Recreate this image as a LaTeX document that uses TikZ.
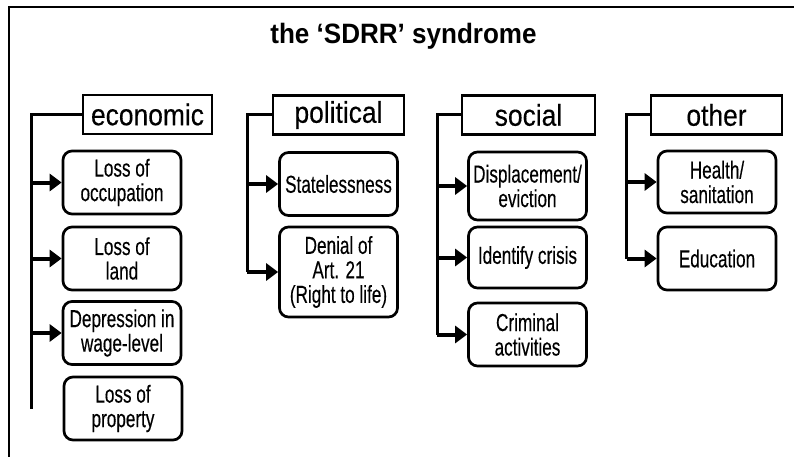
\documentclass[tikz,border=0pt]{standalone}
\usepackage{fontspec}
\setmainfont{Liberation Sans}
\newfontfamily\boxfont{Liberation Sans}[FakeStretch=0.70,FakeBold=0.3]
\newfontfamily\headfont{Liberation Sans}[FakeStretch=0.88,FakeBold=0.3]
\newfontfamily\titlefont{Liberation Sans}[FakeStretch=0.93]
\usetikzlibrary{arrows.meta}
\tikzset{
  itembox/.style={draw, line width=2.7pt, rounded corners=9pt, minimum width=118pt,
    minimum height=63pt, inner sep=0pt, align=center,
    font=\boxfont\fontsize{24.5}{24.5}\selectfont},
  headbox/.style={draw, line width=2.6pt, minimum width=129pt, minimum height=39pt,
    inner sep=0pt, font=\headfont\fontsize{30}{32}\selectfont},
  link/.style={line width=3pt},
  arr/.style={line width=4pt, -{Triangle[length=12pt,width=17pt]}},
  frame/.style={line width=2.4pt}
}
\begin{document}
\begin{tikzpicture}[x=1pt,y=-1pt]
\useasboundingbox (0,0) rectangle (794,457);
\draw[frame] (9,475) -- (9,7) -- (812,7);

\node[font=\titlefont\bfseries\fontsize{28}{30}\selectfont, anchor=base] (title) at (403.5,43.5) {the ‘SDRR’ syndrome};

% economic
\node[headbox] (ecoH) at (147.5,114.5) {economic};
\node[itembox] (occ)  at (122,182.5) {Loss of\\occupation};
\node[itembox] (land) at (122,258.5) {Loss of\\land};
\node[itembox] (dep)  at (122,333) {Depression in\\wage-level};
\node[itembox] (prop) at (123,408.5) {Loss of\\property};
\path (occ.west) ++(-30,0) coordinate (ecoX);
\coordinate (ecoV) at (ecoX |- prop.west);
\draw[link] (ecoH.west) -| (ecoV);
\draw[arr] (occ.west -| ecoV) -- (occ.west);
\draw[arr] (land.west -| ecoV) -- (land.west);
\draw[arr] (dep.west -| ecoV) -- (dep.west);

% political
\node[headbox, minimum width=131pt] (polH) at (338.5,115) {political};
\node[itembox] (stl) at (338.5,184) {Statelessness};
\node[itembox, minimum height=90pt] (den) at (338.5,272) {Denial of\\Art. 21\\(Right to life)};
\path (den.west) ++(-31,0) coordinate (polV);
\draw[link] (polH.west) -| (polV);
\draw[arr] (stl.west -| polV) -- (stl.west);
\draw[arr] (polV) -- (den.west);

% social
\node[headbox, minimum width=133pt] (socH) at (528.5,115) {social};
\node[itembox, minimum height=68pt] (dis) at (527.5,186) {Displacement/\\eviction};
\node[itembox, minimum height=61pt] (idc) at (527.5,257.5) {Identify crisis};
\node[itembox] (crm) at (527.5,334.5) {Criminal\\activities};
\path (crm.west) ++(-30,0) coordinate (socV);
\draw[link] (socH.west) -| (socV);
\draw[arr] (dis.west -| socV) -- (dis.west);
\draw[arr] (idc.west -| socV) -- (idc.west);
\draw[arr] (socV) -- (crm.west);

% other
\node[headbox, minimum width=131pt] (othH) at (716.5,115) {other};
\node[itembox, minimum height=62pt] (hea) at (717,182) {Health/\\sanitation};
\node[itembox] (edu) at (717,258.5) {Education};
\path (edu.west) ++(-30,0) coordinate (othV);
\draw[link] (othH.west) -| (othV);
\draw[arr] (hea.west -| othV) -- (hea.west);
\draw[arr] (othV) -- (edu.west);
\end{tikzpicture}
\end{document}
